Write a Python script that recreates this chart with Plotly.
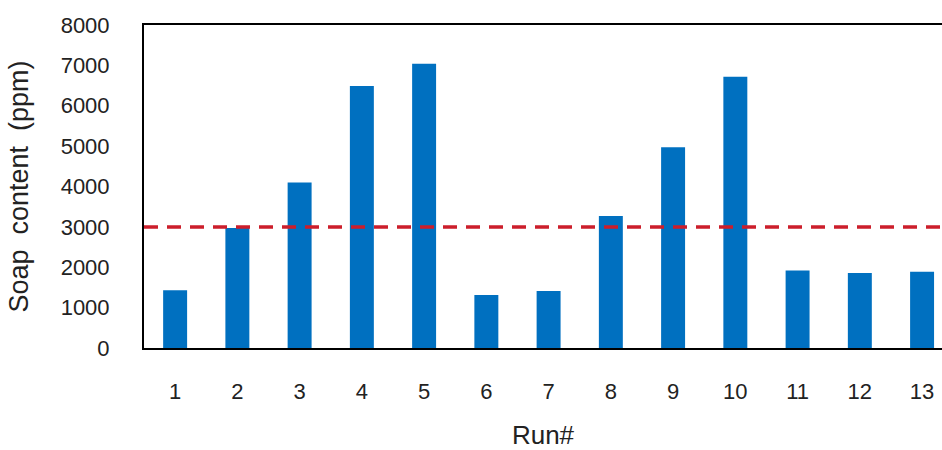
import plotly.graph_objects as go

runs = list(range(1, 14))
soap_ppm = [1430, 2970, 4100, 6490, 7040, 1310, 1410, 3270, 4970, 6720, 1920, 1860, 1890]
limit_ppm = 3000
y_ticks = [0, 1000, 2000, 3000, 4000, 5000, 6000, 7000, 8000]

FONT = "Arial, Liberation Sans, sans-serif"

fig = go.Figure()
fig.add_trace(go.Bar(x=runs, y=soap_ppm, width=0.385, marker=dict(color="#0070C0", line=dict(width=0)),
                     showlegend=False))
fig.add_shape(type="line", xref="paper", x0=0, x1=1, yref="y", y0=limit_ppm, y1=limit_ppm,
              line=dict(color="#CC1E2B", width=3.5, dash="14px,9px"))

fig.update_layout(
    width=942, height=450,
    margin=dict(l=144, r=0, t=25, b=102),
    paper_bgcolor="white", plot_bgcolor="white",
    font=dict(family=FONT, color="#222222"),
    bargap=0.6,
)
fig.update_xaxes(
    range=[0.5, 13.32], tickmode="array", tickvals=runs, ticktext=[str(r) for r in runs],
    showline=True, linecolor="black", linewidth=2, mirror=True, showgrid=False, zeroline=False,
    ticks="", ticklabelstandoff=23, tickfont=dict(size=22, family=FONT, color="#222222"),
    title=dict(text="Run#", font=dict(size=26, family=FONT, color="#222222"), standoff=33),
    automargin=False,
)
fig.update_yaxes(
    range=[0, 8000], tickmode="array", tickvals=y_ticks, ticktext=[str(v) for v in y_ticks],
    showline=True, linecolor="black", linewidth=2, showgrid=False, zeroline=False,
    ticks="", ticklabelstandoff=28, tickfont=dict(size=22, family=FONT, color="#222222"),
    title=dict(text="Soap\u00a0 content\u00a0 (ppm)", font=dict(size=27, family=FONT, color="#222222"), standoff=24),
    automargin=False,
)

fig.write_html("out.html", config={"displayModeBar": False},
               post_script="document.body.style.margin='0';document.body.style.padding='0';")
